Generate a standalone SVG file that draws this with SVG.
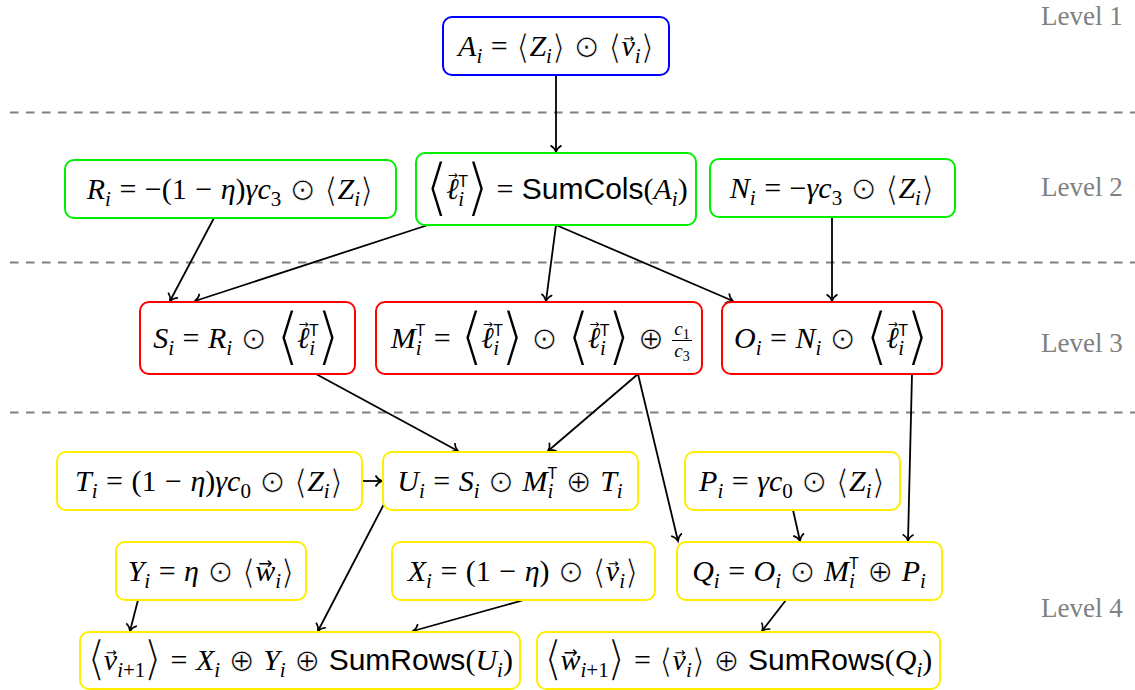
<svg xmlns="http://www.w3.org/2000/svg" width="1135" height="690" viewBox="0 0 1135 690">
<style>
.box{fill:#fff;stroke-width:2}
.bl{stroke:#0000ff}.gr{stroke:#00ee00}.rd{stroke:#ff0000}.ye{stroke:#ffee00}
.t{font-family:"Liberation Serif","DejaVu Serif",serif;font-size:30px;fill:#000;text-anchor:middle;word-spacing:1px}
.i{font-style:italic}
.sb{font-size:21px;baseline-shift:-7px}
.sp{font-size:16px;baseline-shift:12px;font-family:"Liberation Sans","DejaVu Sans",sans-serif;font-style:normal}
.sf{font-family:"Liberation Sans","DejaVu Sans",sans-serif}
.ar{font-family:"DejaVu Sans",sans-serif;font-style:normal;font-size:13px;baseline-shift:13px}
.arl{font-family:"DejaVu Sans",sans-serif;font-style:normal;font-size:12px;baseline-shift:20px}
.arw{font-family:"DejaVu Sans",sans-serif;font-style:normal;font-size:17px;baseline-shift:12px}
.big{font-size:64px;font-family:"DejaVu Sans",sans-serif;font-style:normal;baseline-shift:-10px;stroke:#fff;stroke-width:2.6px}
.med{font-size:48px;font-family:"DejaVu Sans",sans-serif;font-style:normal;baseline-shift:-5px;stroke:#fff;stroke-width:1.8px}
.ang{font-size:34px;font-family:"DejaVu Sans",sans-serif;font-style:normal;baseline-shift:-3px;stroke:#fff;stroke-width:1.1px}
.sym{font-family:"DejaVu Sans",sans-serif;font-size:31px;font-style:normal;baseline-shift:-1px;stroke:#fff;stroke-width:0.7px}
.lv{font-family:"Liberation Serif",serif;font-size:27px;fill:#808080}
.dash{stroke:#808080;stroke-width:2;stroke-dasharray:8.5 7.5}
.e{stroke:#000;stroke-width:1.8;fill:none;marker-end:url(#ah)}
</style>
<defs>
<marker id="ah" viewBox="-8 -7 10 14" refX="0" refY="0" markerWidth="10" markerHeight="14" markerUnits="userSpaceOnUse" orient="auto" overflow="visible">
<path d="M-6.5,-5.5 C-4.8,-2.4 -1.8,-0.6 0,0 C-1.8,0.6 -4.8,2.4 -6.5,5.5" fill="none" stroke="#000" stroke-width="1.6"/>
</marker>
</defs>
<g id="levels">
<line class="dash" x1="10" y1="112.5" x2="1135" y2="112.5"/>
<line class="dash" x1="10" y1="262.5" x2="1135" y2="262.5"/>
<line class="dash" x1="10" y1="412.5" x2="1135" y2="412.5"/>
<text class="lv" x="1041" y="25">Level 1</text>
<text class="lv" x="1041" y="196">Level 2</text>
<text class="lv" x="1041" y="352">Level 3</text>
<text class="lv" x="1041" y="617">Level 4</text>
</g>
<g id="connectors">
<path class="e" d="M556,75 L556,152"/>
<path class="e" d="M214,218 L170,301"/>
<path class="e" d="M428,225 L195,301"/>
<path class="e" d="M556,225 L546,301"/>
<path class="e" d="M556,225 L733,301"/>
<path class="e" d="M832,217 L832,301"/>
<path class="e" d="M316,374 L458,451"/>
<path class="e" d="M638,374 L548,451"/>
<path class="e" d="M638,374 L678,541"/>
<path class="e" d="M912,374 L908,541"/>
<path class="e" d="M362,481 L382,481"/>
<path class="e" d="M793,510 L800,541"/>
<path class="e" d="M384,504 L318,631"/>
<path class="e" d="M138,600 L130,631"/>
<path class="e" d="M524,600 L413,631"/>
<path class="e" d="M786,600 L762,631"/>
</g>
<g id="A">
<rect class="box bl" x="443" y="17" width="226" height="58" rx="9"/>
<text class="t" x="556" y="56"><tspan class="i">A</tspan><tspan class="sb i">i</tspan> = <tspan class="ang">⟨</tspan><tspan class="i">Z</tspan><tspan class="sb i">i</tspan><tspan class="ang">⟩</tspan> <tspan class="sym">⊙</tspan> <tspan class="ang">⟨</tspan><tspan class="i">v</tspan><tspan class="ar" dx="-11.5">→</tspan><tspan class="sb i" dx="0.6">i</tspan><tspan class="ang">⟩</tspan></text>
</g>
<g id="R">
<rect class="box gr" x="65" y="160" width="331" height="58" rx="9"/>
<text class="t" x="230" y="199"><tspan class="i">R</tspan><tspan class="sb i">i</tspan> = −(1 − <tspan class="i">η</tspan>)<tspan class="i">γc</tspan><tspan class="sb">3</tspan> <tspan class="sym">⊙</tspan> <tspan class="ang">⟨</tspan><tspan class="i">Z</tspan><tspan class="sb i">i</tspan><tspan class="ang">⟩</tspan></text>
</g>
<g id="L">
<rect class="box gr" x="416" y="153" width="280" height="72" rx="9"/>
<text class="t" x="556" y="199"><tspan class="big">⟨</tspan><tspan class="i" dx="-3">ℓ</tspan><tspan class="arl" dx="-11">→</tspan><tspan class="sb i" dx="0.5">i</tspan><tspan class="sp" dx="-6">T</tspan><tspan class="big" dx="-3">⟩</tspan><tspan dx="-2"> = </tspan><tspan class="sf">SumCols</tspan>(<tspan class="i">A</tspan><tspan class="sb i">i</tspan>)</text>
</g>
<g id="N">
<rect class="box gr" x="710" y="159" width="245" height="58" rx="9"/>
<text class="t" x="832" y="198"><tspan class="i">N</tspan><tspan class="sb i">i</tspan> = −<tspan class="i">γc</tspan><tspan class="sb">3</tspan> <tspan class="sym">⊙</tspan> <tspan class="ang">⟨</tspan><tspan class="i">Z</tspan><tspan class="sb i">i</tspan><tspan class="ang">⟩</tspan></text>
</g>
<g id="S">
<rect class="box rd" x="140" y="302" width="215" height="72" rx="9"/>
<text class="t" x="247" y="348"><tspan class="i">S</tspan><tspan class="sb i">i</tspan> = <tspan class="i">R</tspan><tspan class="sb i">i</tspan> <tspan class="sym">⊙</tspan> <tspan class="big">⟨</tspan><tspan class="i" dx="-3">ℓ</tspan><tspan class="arl" dx="-11">→</tspan><tspan class="sb i" dx="0.5">i</tspan><tspan class="sp" dx="-6">T</tspan><tspan class="big" dx="-3">⟩</tspan></text>
</g>
<g id="M">
<rect class="box rd" x="376" y="302" width="326" height="72" rx="9"/>
<text class="t" x="664" y="348" style="text-anchor:end"><tspan class="i">M</tspan><tspan class="sb i">i</tspan><tspan class="sp" dx="-6">T</tspan> = <tspan class="big">⟨</tspan><tspan class="i" dx="-3">ℓ</tspan><tspan class="arl" dx="-11">→</tspan><tspan class="sb i" dx="0.5">i</tspan><tspan class="sp" dx="-6">T</tspan><tspan class="big" dx="-3">⟩</tspan><tspan dx="-2"> </tspan><tspan class="sym">⊙</tspan> <tspan class="big">⟨</tspan><tspan class="i" dx="-3">ℓ</tspan><tspan class="arl" dx="-11">→</tspan><tspan class="sb i" dx="0.5">i</tspan><tspan class="sp" dx="-6">T</tspan><tspan class="big" dx="-3">⟩</tspan><tspan dx="-2"> </tspan><tspan class="sym">⊕</tspan></text>
<line x1="672" y1="340.5" x2="692" y2="340.5" stroke="#000" stroke-width="1"/>
<text class="t" x="682" y="335" style="font-size:19px"><tspan class="i">c</tspan><tspan style="font-size:14px;baseline-shift:-4px">1</tspan></text>
<text class="t" x="682" y="357" style="font-size:19px"><tspan class="i">c</tspan><tspan style="font-size:14px;baseline-shift:-4px">3</tspan></text>
</g>
<g id="O">
<rect class="box rd" x="722" y="302" width="220" height="72" rx="9"/>
<text class="t" x="832" y="348"><tspan class="i">O</tspan><tspan class="sb i">i</tspan> = <tspan class="i">N</tspan><tspan class="sb i">i</tspan> <tspan class="sym">⊙</tspan> <tspan class="big">⟨</tspan><tspan class="i" dx="-3">ℓ</tspan><tspan class="arl" dx="-11">→</tspan><tspan class="sb i" dx="0.5">i</tspan><tspan class="sp" dx="-6">T</tspan><tspan class="big" dx="-3">⟩</tspan></text>
</g>
<g id="T">
<rect class="box ye" x="57" y="452" width="305" height="58" rx="9"/>
<text class="t" x="209" y="491"><tspan class="i">T</tspan><tspan class="sb i">i</tspan> = (1 − <tspan class="i">η</tspan>)<tspan class="i">γc</tspan><tspan class="sb">0</tspan> <tspan class="sym">⊙</tspan> <tspan class="ang">⟨</tspan><tspan class="i">Z</tspan><tspan class="sb i">i</tspan><tspan class="ang">⟩</tspan></text>
</g>
<g id="U">
<rect class="box ye" x="383" y="452" width="255" height="58" rx="9"/>
<text class="t" x="510" y="491"><tspan class="i">U</tspan><tspan class="sb i">i</tspan> = <tspan class="i">S</tspan><tspan class="sb i">i</tspan> <tspan class="sym">⊙</tspan> <tspan class="i">M</tspan><tspan class="sb i">i</tspan><tspan class="sp" dx="-6">T</tspan> <tspan class="sym">⊕</tspan> <tspan class="i">T</tspan><tspan class="sb i">i</tspan></text>
</g>
<g id="P">
<rect class="box ye" x="685" y="452" width="215" height="58" rx="9"/>
<text class="t" x="792" y="491"><tspan class="i">P</tspan><tspan class="sb i">i</tspan> = <tspan class="i">γc</tspan><tspan class="sb">0</tspan> <tspan class="sym">⊙</tspan> <tspan class="ang">⟨</tspan><tspan class="i">Z</tspan><tspan class="sb i">i</tspan><tspan class="ang">⟩</tspan></text>
</g>
<g id="Y">
<rect class="box ye" x="116" y="542" width="190" height="58" rx="9"/>
<text class="t" x="211" y="581"><tspan class="i">Y</tspan><tspan class="sb i">i</tspan> = <tspan class="i">η</tspan> <tspan class="sym">⊙</tspan> <tspan class="ang">⟨</tspan><tspan class="i">w</tspan><tspan class="arw" dx="-17">→</tspan><tspan class="sb i" dx="2.7">i</tspan><tspan class="ang">⟩</tspan></text>
</g>
<g id="X">
<rect class="box ye" x="392" y="542" width="263" height="58" rx="9"/>
<text class="t" x="523" y="581"><tspan class="i">X</tspan><tspan class="sb i">i</tspan> = (1 − <tspan class="i">η</tspan>) <tspan class="sym">⊙</tspan> <tspan class="ang">⟨</tspan><tspan class="i">v</tspan><tspan class="ar" dx="-11.5">→</tspan><tspan class="sb i" dx="0.6">i</tspan><tspan class="ang">⟩</tspan></text>
</g>
<g id="Q">
<rect class="box ye" x="677" y="542" width="265" height="58" rx="9"/>
<text class="t" x="809" y="581"><tspan class="i">Q</tspan><tspan class="sb i">i</tspan> = <tspan class="i">O</tspan><tspan class="sb i">i</tspan> <tspan class="sym">⊙</tspan> <tspan class="i">M</tspan><tspan class="sb i">i</tspan><tspan class="sp" dx="-6">T</tspan> <tspan class="sym">⊕</tspan> <tspan class="i">P</tspan><tspan class="sb i">i</tspan></text>
</g>
<g id="V">
<rect class="box ye" x="80" y="632" width="440" height="57" rx="9"/>
<text class="t" x="300" y="670"><tspan class="med">⟨</tspan><tspan class="i" dx="-2">v</tspan><tspan class="ar" dx="-11.5">→</tspan><tspan class="sb" dx="0.6"><tspan class="i">i</tspan>+1</tspan><tspan class="med" dx="-2">⟩</tspan> = <tspan class="i">X</tspan><tspan class="sb i">i</tspan> <tspan class="sym">⊕</tspan> <tspan class="i">Y</tspan><tspan class="sb i">i</tspan> <tspan class="sym">⊕</tspan> <tspan class="sf">SumRows</tspan>(<tspan class="i">U</tspan><tspan class="sb i">i</tspan>)</text>
</g>
<g id="W">
<rect class="box ye" x="537" y="632" width="403" height="57" rx="9"/>
<text class="t" x="738" y="670"><tspan class="med">⟨</tspan><tspan class="i" dx="-2">w</tspan><tspan class="arw" dx="-17">→</tspan><tspan class="sb" dx="2.7"><tspan class="i">i</tspan>+1</tspan><tspan class="med" dx="-2">⟩</tspan> = <tspan class="ang">⟨</tspan><tspan class="i">v</tspan><tspan class="ar" dx="-11.5">→</tspan><tspan class="sb i" dx="0.6">i</tspan><tspan class="ang">⟩</tspan> <tspan class="sym">⊕</tspan> <tspan class="sf">SumRows</tspan>(<tspan class="i">Q</tspan><tspan class="sb i">i</tspan>)</text>
</g>
</svg>
